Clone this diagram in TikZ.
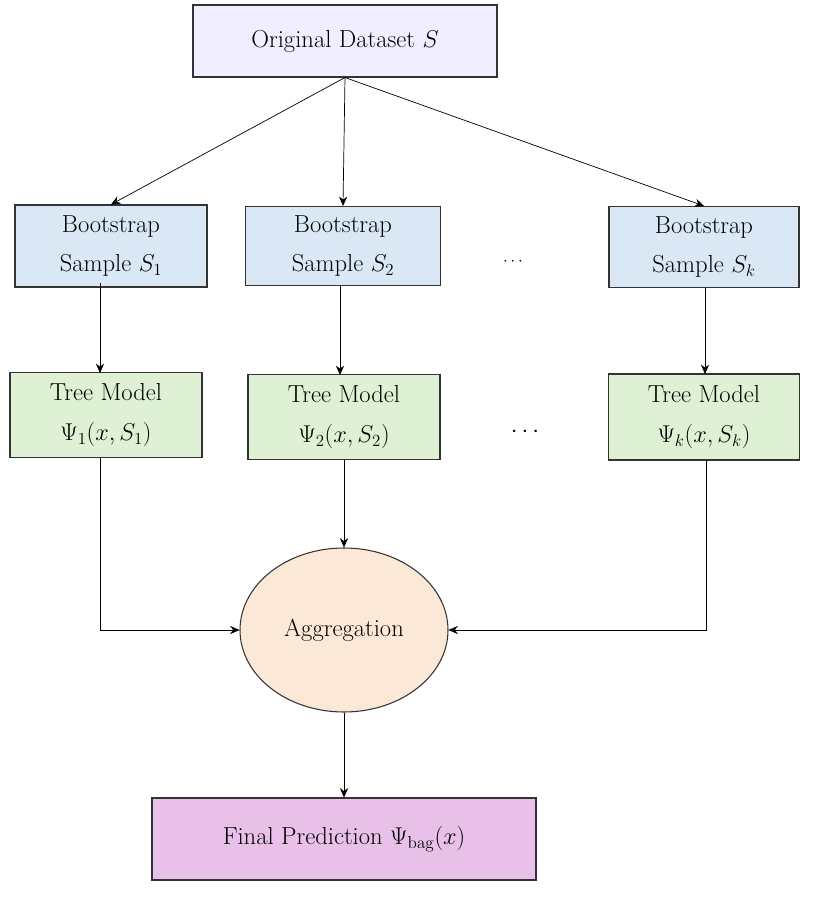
\documentclass[tikz,border=0pt]{standalone}
\usepackage{fontspec}
\usetikzlibrary{arrows.meta,shapes.geometric}
\definecolor{cOrig}{RGB}{240,238,255}
\definecolor{cBoot}{RGB}{218,232,245}
\definecolor{cTree}{RGB}{222,241,212}
\definecolor{cAgg}{RGB}{252,232,214}
\definecolor{cFin}{RGB}{232,192,232}
\begin{document}
\begin{tikzpicture}[x=0.03cm,y=-0.03cm,
  box/.style={draw=black!80,line width=0.9pt,align=center,font=\fontsize{21}{34}\selectfont,inner sep=0pt},
  arr/.style={-{Stealth[length=8pt,width=7pt]},line width=0.6pt}]
\useasboundingbox (0,0) rectangle (820,897);
\node[box,fill=cOrig,minimum width=304*0.03cm,minimum height=72*0.03cm] (orig) at (345,41) {Original Dataset $S$};
\node[box,fill=cBoot,minimum width=192*0.03cm,minimum height=82*0.03cm] (b1) at (111,246) {Bootstrap\\Sample $S_1$};
\node[box,fill=cBoot,minimum width=195*0.03cm,minimum height=79*0.03cm] (b2) at (343,246) {Bootstrap\\Sample $S_2$};
\node[box,fill=cBoot,minimum width=190*0.03cm,minimum height=81*0.03cm] (bk) at (704,247) {Bootstrap\\Sample $S_k$};
\node[font=\fontsize{14}{16}\selectfont] (d1) at (513,262) {$\cdots$};
\node[box,fill=cTree,minimum width=192*0.03cm,minimum height=85*0.03cm] (t1) at (106,415) {Tree Model\\$\Psi_1(x,S_1)$};
\node[box,fill=cTree,minimum width=192*0.03cm,minimum height=85*0.03cm] (t2) at (344,417) {Tree Model\\$\Psi_2(x,S_2)$};
\node[box,fill=cTree,minimum width=191*0.03cm,minimum height=86*0.03cm] (tk) at (704,417) {Tree Model\\$\Psi_k(x,S_k)$};
\node[font=\fontsize{21}{25}\selectfont] (d2) at (525,432) {$\cdots$};
\node[box,ellipse,fill=cAgg,minimum width=208*0.03cm,minimum height=164*0.03cm] (agg) at (344,630) {Aggregation};
\node[box,fill=cFin,minimum width=384*0.03cm,minimum height=82*0.03cm] (fin) at (344,839) {Final Prediction $\Psi_{\mathrm{bag}}(x)$};
\coordinate (o) at (orig.south);
\draw[arr] (o) -- (b1.north);
\draw[arr] (o) -- (b2.north);
\draw[arr] (o) -- (bk.north);
\draw[arr] (100,283) -- (100,373);
\draw[arr] (340,285) -- (340,375);
\draw[arr] (705,288) -- (705,374);
\draw[arr] (100,458) |- (agg.west);
\draw[arr] (t2.south) -- (agg.north);
\draw[arr] (706,460) |- (agg.east);
\draw[arr] (agg.south) -- (fin.north);
\end{tikzpicture}
\end{document}
